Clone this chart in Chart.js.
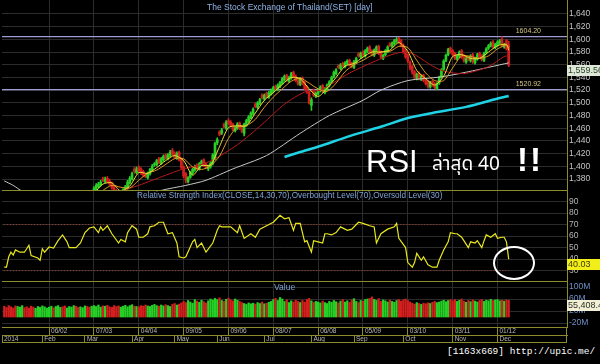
<!DOCTYPE html>
<html>
<head>
<meta charset="utf-8">
<title>SET day</title>
<script src="https://cdn.jsdelivr.net/npm/chart.js"></script>
<style>
  body { margin: 0; background: #000; width: 600px; height: 364px; overflow: hidden; position: relative; font-family: Arial, "Liberation Sans", sans-serif; }
  #c { position: absolute; left: 0; top: 0; }
  .t { position: absolute; white-space: nowrap; line-height: 1; }
  #title { left: 207px; top: 3px; font-size: 8.5px; color: #8fb3e6; }
  #rsiTitle { left: 137px; top: 192px; font-size: 8.2px; color: #7fa2d4; }
  #valTitle { left: 274px; top: 283px; font-size: 8.5px; color: #7fa2d4; }
  #big1 { left: 366px; top: 146px; font-size: 31px; color: #fff; }
  #big2 { left: 432px; top: 155px; font-size: 19px; color: #fff; font-family: "Noto Sans Thai", "Noto Sans", "DejaVu Sans", sans-serif; }
  #big3 { left: 517px; top: 143px; font-size: 33px; color: #fff; font-weight: bold; letter-spacing: 2px; }
  #ring { position: absolute; left: 493px; top: 246px; width: 42px; height: 34px; border: 2.5px solid #fff; border-radius: 50%; box-sizing: border-box; }
  #mark { left: 447px; top: 347px; font-size: 9.5px; color: #fff; font-family: "Liberation Mono", "DejaVu Sans Mono", monospace; }
</style>
</head>
<body>
<canvas id="c" width="600" height="344"></canvas>
<div class="t" id="title">The Stock Exchange of Thailand(SET) [day]</div>
<div class="t" id="rsiTitle">Relative Strength Index(CLOSE,14,30,70),Overbought Level(70),Oversold Level(30)</div>
<div class="t" id="valTitle">Value</div>
<div class="t" id="big1">RSI</div>
<div class="t" id="big2">ล่าสุด 40</div>
<div class="t" id="big3">!!</div>
<div id="ring"></div>
<div class="t" id="mark">[1163x669] http://upic.me/</div>
<script>
// daily bars, index 0 = first bar on the chart
const open = [1305,1302,1296,1292,1284,1276,1268,1280,1284,1293, 1290,1282,1278,1274,1266,1274,1280,1292,1294,1302,
  1304,1308,1318,1312,1316,1324,1328,1322,1314,1320, 1328,1336,1344,1340,1332,1341,1346,1357,1356,1349,
  1359,1363,1368,1371,1380,1376,1381,1377,1373,1368, 1362,1357,1350,1356,1362,1366,1374,1380,1395,1390,
  1398,1396,1392,1387,1382,1388,1394,1402,1403,1412, 1405,1410,1418,1412,1417,1425,1421,1413,1422,1411,
  1399,1388,1376,1383,1389,1394,1402,1396,1403,1410, 1404,1396,1399,1404,1412,1437,1454,1452,1466,1460,
  1472,1470,1466,1456,1460,1468,1462,1452,1465,1471, 1477,1483,1498,1493,1499,1512,1506,1515,1509,1514,
  1518,1526,1521,1526,1531,1536,1543,1534,1539,1548, 1542,1537,1529,1539,1532,1525,1516,1496,1520,1510,
  1514,1519,1527,1516,1521,1527,1534,1541,1546,1558, 1554,1562,1557,1562,1567,1562,1556,1564,1577,1572,
  1580,1574,1581,1588,1582,1575,1582,1589,1580,1570, 1576,1581,1593,1589,1593,1597,1602,1598,1591,1582,
  1575,1564,1557,1549,1538,1547,1537,1543,1537,1533, 1525,1534,1530,1522,1531,1541,1553,1567,1576,1586,
  1582,1578,1569,1573,1582,1574,1564,1572,1566,1576, 1563,1569,1578,1574,1567,1579,1586,1590,1596,1587,
  1591,1594,1600,1588,1598,1592];
const high = [1307,1304,1298,1293,1286,1278,1281,1288,1292,1295, 1292,1284,1280,1276,1277,1284,1292,1298,1302,1307,
  1312,1317,1320,1320,1324,1328,1330,1324,1324,1332, 1337,1342,1346,1342,1344,1350,1354,1359,1358,1360,
  1368,1373,1375,1378,1383,1383,1384,1380,1375,1370, 1364,1359,1360,1365,1370,1378,1384,1391,1398,1399,
  1401,1398,1394,1389,1391,1397,1403,1406,1411,1414, 1414,1418,1420,1420,1425,1428,1423,1423,1424,1413,
  1401,1390,1384,1392,1397,1402,1404,1406,1410,1412, 1406,1402,1407,1420,1438,1445,1456,1460,1468,1472,
  1475,1472,1468,1463,1469,1470,1464,1468,1474,1480, 1486,1492,1500,1502,1507,1514,1514,1517,1518,1522,
  1526,1528,1530,1534,1540,1544,1545,1542,1548,1550, 1544,1539,1540,1541,1534,1527,1518,1508,1522,1517,
  1522,1527,1529,1524,1530,1535,1542,1550,1554,1560, 1562,1564,1565,1568,1569,1564,1567,1572,1579,1580,
  1582,1584,1588,1590,1584,1585,1590,1591,1582,1577, 1584,1590,1595,1596,1600,1603,1603,1600,1593,1584,
  1577,1566,1559,1551,1547,1549,1544,1545,1539,1535, 1534,1536,1532,1532,1542,1554,1568,1577,1586,1588,
  1584,1580,1576,1582,1584,1576,1572,1574,1576,1578, 1572,1578,1580,1576,1580,1587,1592,1596,1598,1594,
  1598,1600,1604.2,1594,1600,1597];
const low = [1297,1292,1287,1279,1272,1266,1266,1278,1282,1285, 1277,1273,1270,1265,1263,1272,1278,1289,1292,1300,
  1302,1306,1310,1310,1314,1322,1318,1313,1312,1318, 1326,1334,1336,1331,1330,1339,1344,1353,1348,1347,
  1356,1360,1366,1369,1376,1374,1374,1370,1364,1357, 1352,1349,1348,1354,1360,1364,1372,1378,1389,1388,
  1391,1387,1384,1382,1380,1386,1392,1400,1401,1404, 1403,1408,1411,1410,1415,1417,1412,1411,1408,1396,
  1382,1374,1374,1381,1387,1392,1395,1394,1401,1400, 1396,1393,1397,1402,1410,1434,1448,1450,1460,1458,
  1466,1462,1456,1454,1458,1458,1453,1448,1463,1469, 1475,1481,1492,1491,1497,1506,1504,1508,1507,1512,
  1516,1520,1519,1524,1529,1534,1534,1532,1537,1539, 1533,1528,1527,1528,1520,1515,1498,1488,1510,1508,
  1512,1517,1516,1514,1519,1525,1532,1539,1544,1554, 1552,1556,1555,1560,1558,1555,1554,1562,1572,1570,
  1573,1572,1579,1578,1574,1573,1580,1576,1569,1568, 1574,1579,1588,1587,1591,1595,1594,1588,1578,1570,
  1563,1552,1545,1537,1536,1536,1535,1533,1528,1523, 1523,1526,1522,1520.92,1529,1539,1551,1565,1574,1578,
  1574,1568,1567,1571,1570,1564,1562,1566,1564,1562, 1561,1567,1570,1566,1565,1577,1584,1588,1586,1585,
  1589,1592,1588,1586,1583,1557];
const close = [1300,1295,1290,1282,1275,1270,1278,1285,1290,1288, 1280,1275,1272,1268,1275,1282,1290,1296,1300,1305,
  1310,1315,1312,1318,1322,1326,1320,1315,1322,1330, 1335,1340,1338,1333,1342,1348,1352,1355,1350,1358,
  1365,1370,1372,1375,1378,1380,1376,1372,1366,1360, 1355,1352,1358,1363,1368,1375,1381,1388,1392,1396,
  1393,1390,1386,1384,1389,1395,1400,1404,1409,1406, 1412,1416,1413,1418,1422,1419,1414,1420,1410,1398,
  1385,1378,1382,1390,1395,1400,1397,1404,1408,1402, 1398,1400,1405,1418,1436,1442,1450,1457,1462,1470,
  1468,1464,1458,1461,1467,1460,1455,1466,1472,1478, 1484,1490,1494,1500,1505,1508,1512,1510,1516,1520,
  1524,1522,1528,1532,1538,1542,1536,1540,1546,1541, 1535,1530,1538,1530,1522,1518,1500,1505,1512,1515,
  1520,1525,1518,1522,1528,1533,1540,1548,1552,1556, 1560,1558,1563,1566,1560,1557,1565,1570,1574,1578,
  1575,1582,1586,1580,1576,1583,1588,1578,1572,1575, 1582,1588,1590,1594,1598,1600,1596,1590,1580,1572,
  1566,1555,1548,1540,1545,1538,1542,1535,1530,1526, 1532,1528,1524,1530,1540,1552,1566,1575,1584,1580,
  1576,1570,1574,1580,1572,1566,1570,1568,1574,1565, 1570,1576,1572,1568,1578,1585,1590,1594,1588,1592,
  1596,1598,1590,1592,1585,1559.56];
// traded value, in M
const vol = [36,32,38,34,30,37,35,33,38,31, 34,30,36,33,29,35,32,37,34,30,
  33,36,31,35,38,32,34,37,30,35, 33,38,36,32,34,31,37,35,33,36,
  38,35,40,33,37,36,39,34,32,38, 35,37,33,36,39,34,38,41,36,35,
  34,38,36,40,37,35,39,42,38,36, 40,37,41,38,35,42,45,40,43,47,
  52,48,55,50,46,58,53,49,56,51, 47,54,60,57,62,58,64,55,52,59,
  63,57,54,60,56,52,48,45,42,47, 44,46,43,48,45,50,44,46,49,52,
  58,62,55,65,60,52,57,48,54,50, 56,52,48,55,50,58,62,54,49,52,
  50,47,53,48,45,52,49,55,51,47, 53,58,50,54,49,57,61,52,48,55,
  53,58,60,62,67,59,55,61,52,57, 54,50,56,52,49,55,58,53,57,60,
  55,50,46,43,48,45,42,46,44,47, 45,49,52,48,50,53,56,51,55,58,
  54,58,52,56,60,53,49,55,51,57, 53,50,55,58,52,56,54,59,55,57,
  58,54,56,53,57,55.4084];

// moving averages and trend line, [bar index, value]
const ma5 = [[40,1357],[44,1372],[48,1374],[52,1361],[56,1369],[60,1390],[64,1389],[68,1398],[72,1409],[76,1417],
  [80,1409],[84,1386],[88,1401],[92,1402],[96,1431],[100,1461],[104,1464],[108,1464],[112,1484],[116,1504],
  [120,1516],[124,1529],[128,1540],[132,1538],[136,1522],[140,1510],[144,1523],[148,1540],[152,1558],[156,1562],
  [160,1572],[164,1580],[168,1580],[172,1583],[176,1595],[180,1581],[184,1551],[188,1538],[192,1528],[196,1542],
  [200,1573],[204,1576],[208,1570],[212,1570],[216,1580],[220,1590],[224,1592],[225,1583]];
const ma10 = [[40,1350],[44,1362],[48,1370],[52,1367],[56,1366],[60,1378],[64,1389],[68,1394],[72,1403],[76,1412],
  [80,1412],[84,1399],[88,1395],[92,1401],[96,1416],[100,1444],[104,1462],[108,1464],[112,1474],[116,1493],
  [120,1509],[124,1522],[128,1534],[132,1539],[136,1531],[140,1522],[144,1518],[148,1531],[152,1549],[156,1560],
  [160,1567],[164,1575],[168,1580],[172,1581],[176,1589],[180,1587],[184,1567],[188,1547],[192,1535],[196,1535],
  [200,1555],[204,1574],[208,1573],[212,1570],[216,1574],[220,1585],[224,1591],[225,1587]];
const ma25 = [[0,1290],[10,1284],[20,1283],[30,1300],[40,1325],[46,1342],[52,1360],[60,1370],[72,1386],[79,1395],
  [87,1402],[93,1410],[104,1434],[115,1466],[125,1498],[134,1517],[141,1520],[154,1547],[169,1571],[176,1579],
  [181,1579],[184,1574],[191,1558],[196,1550],[205,1546],[216,1557],[223,1573],[225,1574]];
const ma200 = [[0,1377],[4,1370],[8,1361],[20,1350],[40,1345],[60,1350],[70,1362],[81,1370],[90,1378],[102,1396],
  [117,1417],[132,1452],[145,1480],[160,1504],[168,1520],[180,1535],[195,1541],[207,1549],[225,1563]];
const trend = [[125,1414.7],[132,1422.5],[141,1432],[154,1447.6],[169,1463.5],[180,1476],[191,1484],[206,1493.6],[221,1507.6],[225,1510.8]];
const levels = [1604.20, 1520.92];

const rsi = [[0,33],[1,33],[2,42],[3,46],[4,43.5],[5,48],[7,46],[9,46],[11,52],[12,43],[15,41],[16,39],[17,49],[18,46],
  [20,50.5],[22,49.5],[24,56],[26,61],[28,55],[29,50],[32,50],[34,54],[36,63],[38,67],[40,68],[42,63],[43,68],[44,65],
  [46,69],[48,62],[51,54],[52,57],[54,55],[55,63],[57,69],[59,66],[60,59],[62,59],[64,62],[65,68],[67,69],[69,72],
  [71,72],[73,62],[75,63],[77,54],[78,42],[80,41],[81,42],[84,55],[85,57],[86,50],[88,54],[90,46],[93,54],[95,65],
  [96,69],[97,68],[101,68],[104,63],[105,69],[107,58],[110,62],[112,59],[114,66],[117,69],[120,72],[123,78],[125,75],
  [127,76],[129,65],[130,71],[132,71],[134,55],[135,56],[137,46],[138,56],[140,55],[142,54],[143,62],[144,62],[146,61],
  [148,63],[150,68],[153,65],[155,66],[158,72],[160,71],[163,69],[165,68],[166,54],[168,62],[171,66],[174,68],[175,71],
  [176,58],[179,50],[180,37],[182,33],[183,37],[184,45],[186,39],[187,42],[189,35],[191,33],[193,33],[194,39],[196,48],
  [198,55],[199,63],[201,62],[202,62],[204,59],[205,56],[207,50],[208,55],[210,54],[211,56],[213,50],[214,56],[215,61],
  [217,59],[219,62],[220,58],[222,59],[223,59],[224,55],[225,40.03]];
const rsiLevels = [70, 30];

const priceTicks = [1380,1400,1420,1440,1460,1480,1500,1520,1540,1560,1580,1600,1620,1640];
const rsiTicks = [30,40,50,60,70,80,90];
const volTicks = [-20,20,60,100];
const dateIdx = [20,40,60,80,100,120,140,160,180,200,220];
const dateLabels = ['06/02','07/03','04/04','09/05','09/06','08/07','06/08','05/09','03/10','03/11','01/12'];
const monthIdx = [-1,17,36,57,76,95,116,137,156,178,200,220];
const monthLabels = ['2014','Feb','Mar','Apr','May','Jun','Jul','Aug','Sep','Oct','Nov','Dec'];

const last = close.length - 1;
const GREEN = '#27d027', RED = '#d41f1f', AXIS = '#8c8c2c', GRID = '#2c2c2c';
const col = close.map((c, i) => c >= open[i] ? GREEN : RED);
const pts = arr => arr.map(p => ({x: p[0], y: p[1]}));
const flat = (v, a, b) => [{x: a, y: v}, {x: b, y: v}];

Chart.defaults.font.family = 'Arial, "Liberation Sans", sans-serif';

const line = (data, color, w, axis) => ({
  type: 'line', data, yAxisID: axis || 'y', borderColor: color, borderWidth: w,
  pointRadius: 0, tension: 0.25, fill: false
});

const deco = {
  id: 'deco',
  afterDraw(chart) {
    const {ctx, chartArea: a, scales} = chart;
    ctx.save();
    ctx.strokeStyle = AXIS;
    ctx.lineWidth = 1;
    ctx.beginPath();
    [scales.y.bottom, scales.yr.bottom].forEach(yy => {
      ctx.moveTo(a.left, Math.round(yy) + 0.5);
      ctx.lineTo(a.right, Math.round(yy) + 0.5);
    });
    const b = Math.round(scales.x2.bottom) - 0.5;
    ctx.moveTo(a.left, b); ctx.lineTo(a.right, b);
    ctx.moveTo(a.right - 0.5, a.bottom); ctx.lineTo(a.right - 0.5, b);
    ctx.stroke();

    // level captions
    ctx.font = '7px Arial, "Liberation Sans", sans-serif';
    ctx.fillStyle = '#d6c785';
    ctx.textAlign = 'left';
    ctx.textBaseline = 'bottom';
    const lx = scales.x.getPixelForValue(last) + 7;
    levels.forEach(v => ctx.fillText(v.toFixed(2), lx, scales.y.getPixelForValue(v) - 2));

    // last value tags
    const tag = (scale, v, txt, bg, fg) => {
      const y = Math.round(scale.getPixelForValue(v));
      ctx.fillStyle = bg;
      ctx.fillRect(scale.left, y, 33, 11);
      ctx.fillStyle = fg;
      ctx.font = '9px Arial, "Liberation Sans", sans-serif';
      ctx.textBaseline = 'middle';
      ctx.fillText(txt, scale.left + 1, y + 6);
    };
    tag(scales.y, close[last], close[last].toLocaleString('en-US', {minimumFractionDigits: 2}), '#dfe7d8', '#27462a');
    tag(scales.yr, rsi[rsi.length - 1][1], rsi[rsi.length - 1][1].toFixed(2), '#f2ee1a', '#3b3a08');
    tag(scales.yv, vol[last], (vol[last] * 1000).toLocaleString('en-US', {minimumFractionDigits: 1, maximumFractionDigits: 1}), '#f1f0d6', '#2d2d22');
    ctx.restore();
  }
};

const yAxis = (weight, min, max, ticks, fmt, color) => ({
  type: 'linear', position: 'right', stack: 'panels', stackWeight: weight, min, max,
  grid: {color: GRID, drawTicks: false},
  border: {color: AXIS},
  ticks: {color, font: {size: 8.5}, padding: 2, autoSkip: false, callback: fmt},
  afterBuildTicks: s => { s.ticks = ticks.map(v => ({value: v})); },
  afterFit: s => { s.width = 33; s.paddingTop = 0; s.paddingBottom = 0; }
});

const xAxis = (idx, labels, onArea) => ({
  type: 'linear', position: 'bottom', min: -1, max: 251, offset: false,
  grid: {color: GRID, tickColor: AXIS, tickLength: 8, offset: false, drawOnChartArea: onArea},
  border: {color: AXIS},
  ticks: {color: '#b8b8b8', font: {size: 6.5}, align: 'start', padding: -8, labelOffset: 2,
    autoSkip: false, maxRotation: 0, callback: (v, i) => labels[i]},
  afterBuildTicks: s => { s.ticks = idx.map(v => ({value: v})); },
  afterFit: s => { s.height = 8; s.paddingLeft = 0; s.paddingRight = 0; }
});

new Chart(document.getElementById('c'), {
  type: 'line',
  data: {
    datasets: [
      line(pts(trend), '#1fd3e6', 2.5),
      line(pts(ma5), '#f0e032', 1),
      line(pts(ma10), '#e09a28', 1),
      line(pts(ma25), '#b81a1a', 1),
      line(pts(ma200), '#c8c8c8', 1),
      {type: 'bar', yAxisID: 'y', grouped: false, barThickness: 2, minBarLength: 1,
        data: close.map((c, i) => ({x: i, y: [open[i], c]})), backgroundColor: col},
      {type: 'bar', yAxisID: 'y', grouped: false, barThickness: 1,
        data: close.map((c, i) => ({x: i, y: [low[i], high[i]]})), backgroundColor: col},
      line(flat(levels[0], -1, 251), '#9c9cd2', 1.3),
      line(flat(levels[1], -1, 251), '#9c9cd2', 1.3),
      Object.assign(line(pts(rsi), '#e8e81e', 1.2, 'yr'), {tension: 0}),
      Object.assign(line(flat(rsiLevels[0], 0, last), '#a8402c', 1, 'yr'), {borderDash: [1, 2]}),
      Object.assign(line(flat(rsiLevels[1], 0, last), '#a8402c', 1, 'yr'), {borderDash: [1, 2]}),
      {type: 'bar', yAxisID: 'yv', grouped: false, barThickness: 1.6,
        data: vol.map((v, i) => ({x: i, y: v})), backgroundColor: col}
    ]
  },
  options: {
    responsive: false,
    animation: false,
    events: [],
    layout: {padding: {left: 2, right: 0, top: 0, bottom: 1}},
    plugins: {legend: {display: false}, tooltip: {enabled: false}},
    scales: {
      x: xAxis(dateIdx, dateLabels, true),
      x2: xAxis(monthIdx, monthLabels, false),
      y: yAxis(190, 1362.7, 1662, priceTicks, v => v.toLocaleString('en-US'), '#c4c4c4'),
      yr: yAxis(91, 21, 100, rsiTicks, v => v, '#b4b4b4'),
      yv: yAxis(46, -33.3, 120, volTicks, v => v + 'M', '#6f8fc6')
    }
  },
  plugins: [deco]
});
</script>
</body>
</html>
